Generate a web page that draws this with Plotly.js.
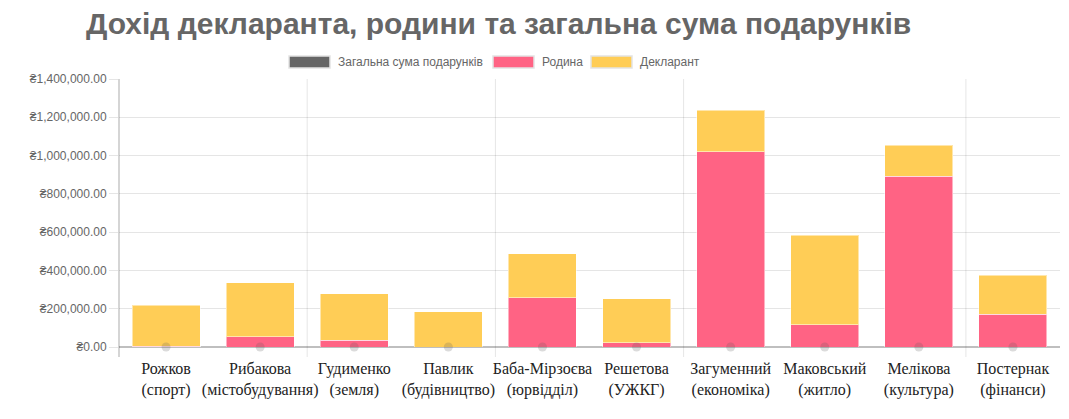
<!DOCTYPE html>
<html>
<head>
<meta charset="utf-8">
<script src="https://cdn.plot.ly/plotly-3.0.1.min.js"></script>
<style>
  html, body { margin: 0; padding: 0; background: #fff; }
  #chart { width: 1069px; height: 419px; }
</style>
</head>
<body>
<div id="chart"></div>
<script>
  // data
  var categories = [
    'Рожков<br>(спорт)',
    'Рибакова<br>(містобудування)',
    'Гудименко<br>(земля)',
    'Павлик<br>(будівництво)',
    'Баба-Мірзоєва<br>(юрвідділ)',
    'Решетова<br>(УЖКГ)',
    'Загуменний<br>(економіка)',
    'Маковський<br>(житло)',
    'Мелікова<br>(культура)',
    'Постернак<br>(фінанси)'
  ];
  var family    = [5000, 53000, 36000, 0, 256000, 21000, 1019000, 115000, 893000, 172000];
  var declarant = [213000, 282000, 241000, 183000, 230000, 230000, 219000, 470000, 162000, 204000];
  var gifts     = [0, 0, 0, 0, 0, 0, 0, 0, 0, 0];

  var seriesNames = ['Загальна сума подарунків', 'Родина', 'Декларант'];
  var seriesColors = ['#666666', '#ff6384', '#ffcd56'];

  // plot area in pixels
  var L = 119, R = 1060, T = 79, B = 347;
  function px(x) { return (x - L) / (R - L); }
  function py(y) { return (B - y) / (B - T); }

  var traces = [
    {
      type: 'bar', name: seriesNames[1], x: categories, y: family,
      marker: {color: seriesColors[1], line: {color: 'rgba(255,255,255,0.5)', width: 1}},
      hoverinfo: 'skip'
    },
    {
      type: 'bar', name: seriesNames[2], x: categories, y: declarant,
      marker: {color: seriesColors[2], line: {color: 'rgba(255,255,255,0.5)', width: 1}},
      hoverinfo: 'skip'
    },
    {
      type: 'scatter', mode: 'markers', name: seriesNames[0], x: categories, y: gifts,
      marker: {color: 'rgba(90,90,90,0.22)', size: 9},
      cliponaxis: false, hoverinfo: 'skip'
    }
  ];

  var shapes = [];
  var annotations = [];
  var ext = -10 / (B - T);

  // vertical grid lines between some categories
  [1.5, 3.5, 5.5, 8.5].forEach(function (v) {
    shapes.push({type: 'line', xref: 'x', yref: 'paper', x0: v, x1: v, y0: ext, y1: 1,
      line: {color: 'rgba(0,0,0,0.1)', width: 1}, layer: 'below'});
  });
  // left axis line, running a little below zero
  shapes.push({type: 'line', xref: 'paper', yref: 'paper', x0: 0, x1: 0, y0: ext, y1: 1,
    line: {color: 'rgba(0,0,0,0.22)', width: 1.5}, layer: 'above'});

  // legend drawn by hand (wide boxes)
  var legendBoxes = [289, 493, 591];
  var legendOrder = [0, 1, 2];
  legendOrder.forEach(function (k, i) {
    var x0 = legendBoxes[i];
    shapes.push({type: 'rect', xref: 'paper', yref: 'paper',
      x0: px(x0), x1: px(x0 + 41), y0: py(68), y1: py(56),
      fillcolor: seriesColors[k], line: {color: '#e3e3e3', width: 1.5}});
    annotations.push({xref: 'paper', yref: 'paper', x: px(x0 + 47), y: py(62),
      xanchor: 'left', yanchor: 'middle', showarrow: false, text: seriesNames[k],
      font: {family: 'Liberation Sans, Arial, sans-serif', size: 12, color: '#666'}});
  });

  var layout = {
    width: 1069, height: 419,
    margin: {l: L, r: 1069 - R, t: T, b: 419 - B, pad: 0},
    paper_bgcolor: '#fff', plot_bgcolor: '#fff',
    barmode: 'stack',
    bargap: 0.278,
    showlegend: false,
    title: {
      text: 'Дохід декларанта, родини та загальна сума подарунків',
      xref: 'container', yref: 'container',
      x: 86 / 1069, xanchor: 'left',
      y: 1 - 23 / 419, yanchor: 'middle',
      font: {family: 'Liberation Sans, Arial, sans-serif', size: 30, weight: 700, color: '#666'}
    },
    xaxis: {
      type: 'category',
      range: [-0.5, 9.5],
      tickangle: 0,
      showgrid: false, zeroline: false, showline: false,
      ticks: 'outside', ticklen: 7, tickcolor: 'rgba(0,0,0,0)',
      tickfont: {family: 'Liberation Serif, Times New Roman, serif', size: 16, color: '#222'},
      fixedrange: true
    },
    yaxis: {
      range: [0, 1400000],
      dtick: 200000,
      tickprefix: '₴',
      tickformat: ',.2f',
      gridcolor: 'rgba(0,0,0,0.1)',
      zeroline: true, zerolinecolor: 'rgba(0,0,0,0.25)', zerolinewidth: 1.5,
      showline: false,
      ticks: 'outside', ticklen: 9, tickcolor: 'rgba(0,0,0,0.1)',
      tickfont: {family: 'Liberation Sans, Arial, sans-serif', size: 12, color: '#666'},
      fixedrange: true
    },
    shapes: shapes,
    annotations: annotations
  };

  Plotly.newPlot('chart', traces, layout, {displayModeBar: false, staticPlot: true});
</script>
</body>
</html>
